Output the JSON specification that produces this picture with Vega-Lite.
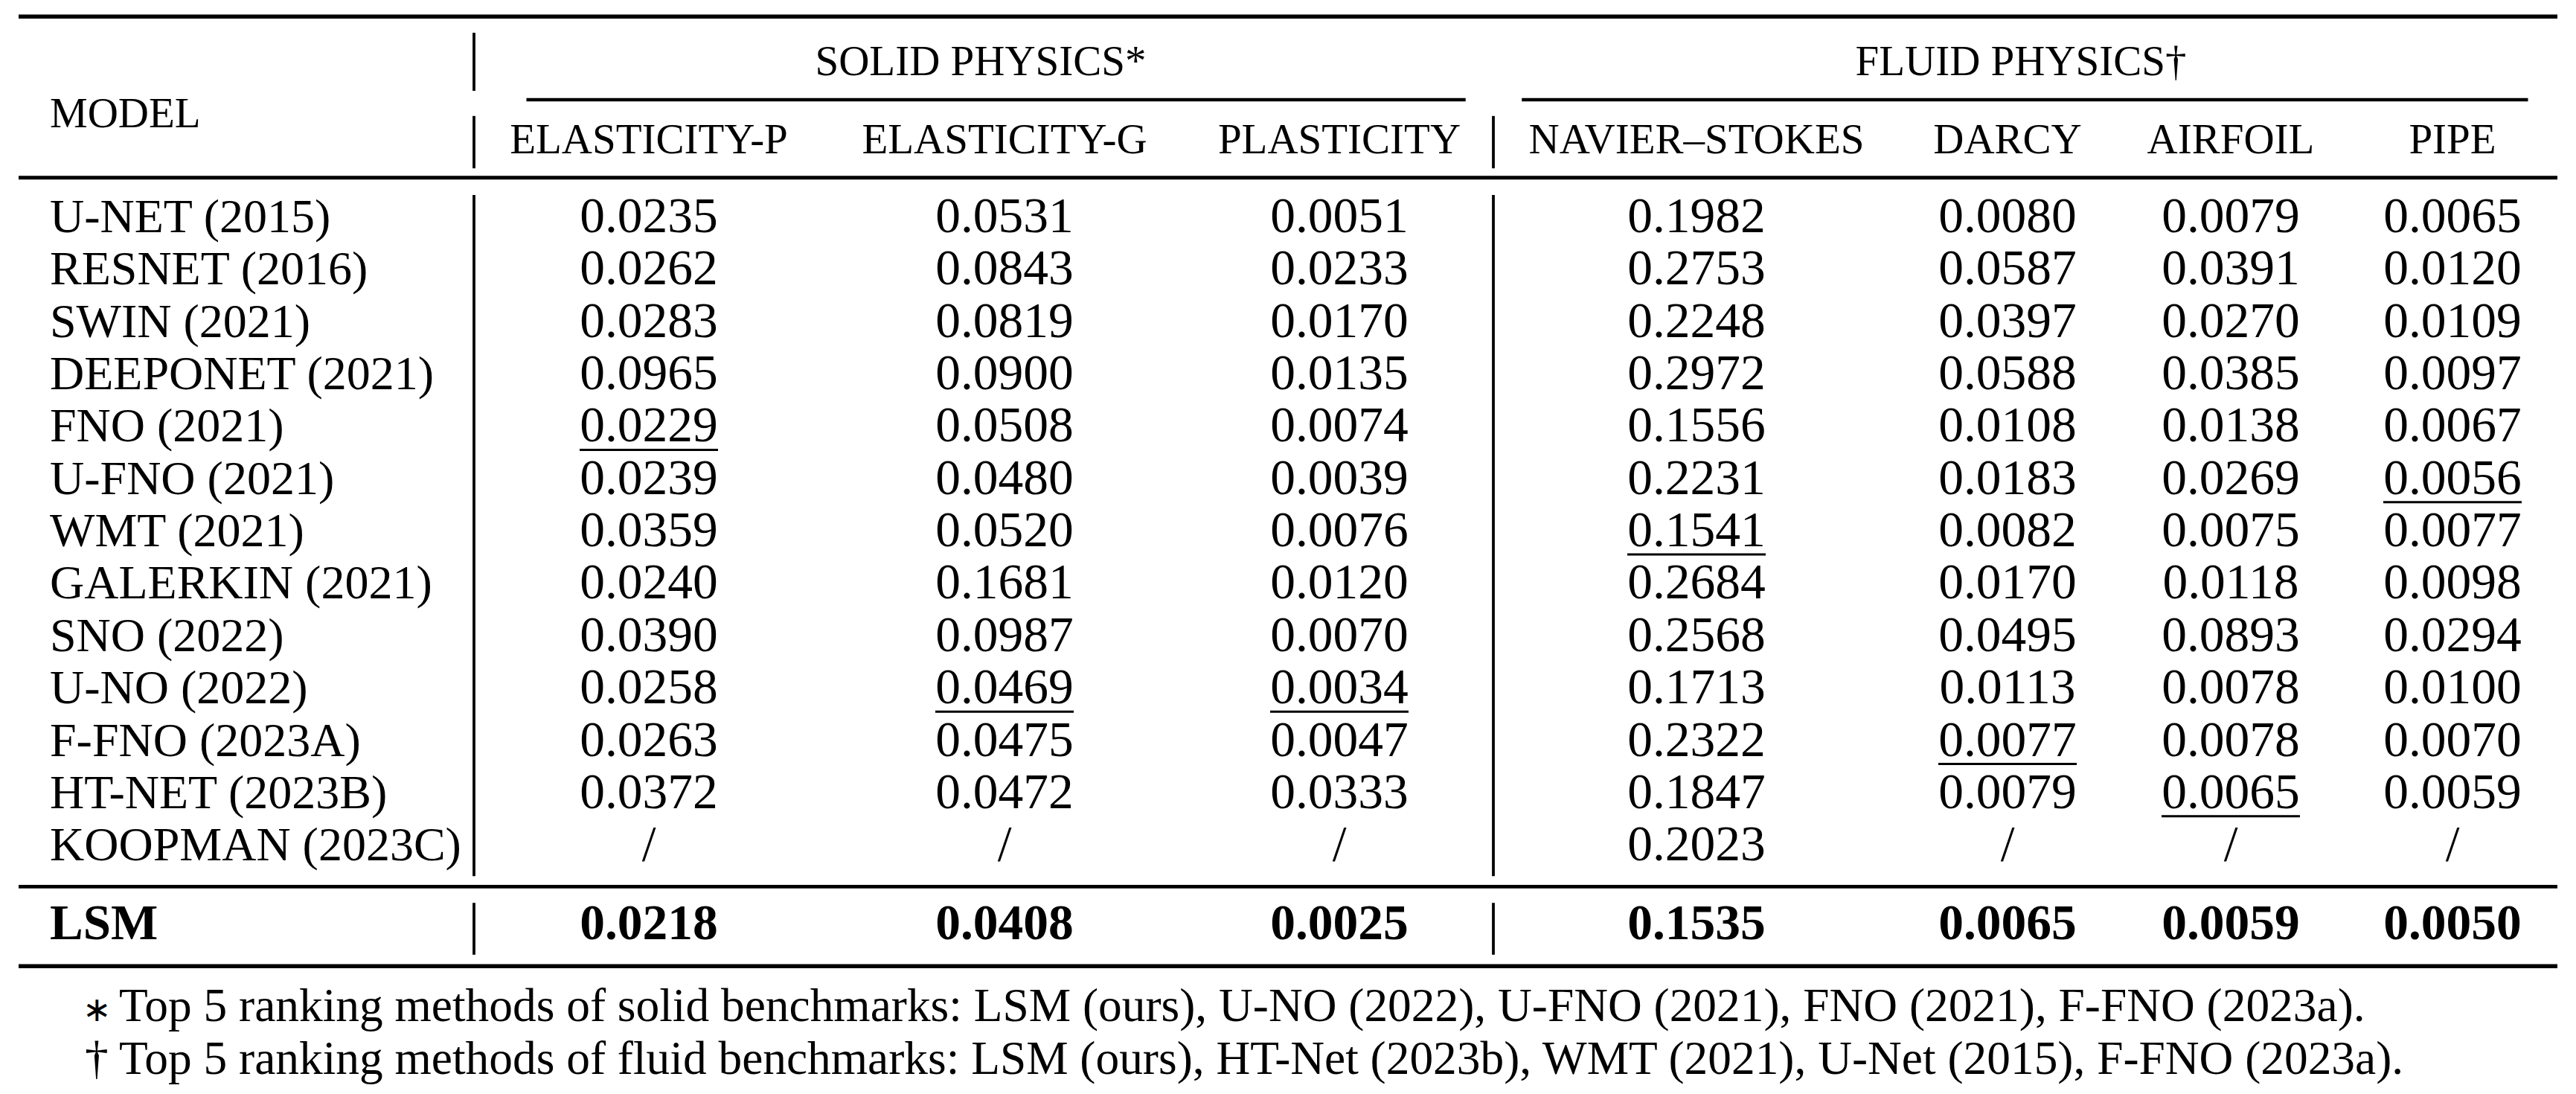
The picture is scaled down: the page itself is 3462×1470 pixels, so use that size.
{
  "$schema": "https://vega.github.io/schema/vega-lite/v6.json",
  "width": 3462,
  "height": 1470,
  "padding": 0,
  "autosize": {"type": "none"},
  "background": "white",
  "config": {"view": {"stroke": null}, "font": "Liberation Serif", "text": {"font": "Liberation Serif", "baseline": "alphabetic"}},
  "datasets": {
    "rules": [
      {"kind": "toprule", "c": -0.05, "c2": 7.5, "r": -3.12, "r2": -3.12},
      {"kind": "cmidrule", "c": 0.65, "c2": 3.41, "r": -1.53, "r2": -1.53},
      {"kind": "cmidrule", "c": 3.57, "c2": 7.36, "r": -1.53, "r2": -1.53},
      {"kind": "midrule", "c": -0.05, "c2": 7.5, "r": -0.04, "r2": -0.04},
      {"kind": "midrule", "c": -0.05, "c2": 7.5, "r": 13.5, "r2": 13.5},
      {"kind": "toprule", "c": -0.05, "c2": 7.5, "r": 15.02, "r2": 15.02},
      {"kind": "vline", "c": 0.5, "c2": 0.5, "r": -2.81, "r2": -1.7},
      {"kind": "vline", "c": 0.5, "c2": 0.5, "r": -1.22, "r2": -0.22},
      {"kind": "vline", "c": 3.5, "c2": 3.5, "r": -1.22, "r2": -0.22},
      {"kind": "vline", "c": 0.5, "c2": 0.5, "r": 0.29, "r2": 13.3},
      {"kind": "vline", "c": 3.5, "c2": 3.5, "r": 0.29, "r2": 13.3},
      {"kind": "vline", "c": 0.5, "c2": 0.5, "r": 13.81, "r2": 14.8},
      {"kind": "vline", "c": 3.5, "c2": 3.5, "r": 13.81, "r2": 14.8}
    ],
    "heads": [
      {"c": 1.933, "r": -2, "label": "SOLID PHYSICS*"},
      {"c": 5.06, "r": -2, "label": "FLUID PHYSICS†"},
      {"c": 1, "r": -0.5, "label": "ELASTICITY-P"},
      {"c": 2, "r": -0.5, "label": "ELASTICITY-G"},
      {"c": 3, "r": -0.5, "label": "PLASTICITY"},
      {"c": 4, "r": -0.5, "label": "NAVIER–STOKES"},
      {"c": 5, "r": -0.5, "label": "DARCY"},
      {"c": 6, "r": -0.5, "label": "AIRFOIL"},
      {"c": 7, "r": -0.5, "label": "PIPE"}
    ],
    "results": [
      {"model": "U-NET", "year": "2015", "EP": 0.0235, "EG": 0.0531, "PL": 0.0051, "NS": 0.1982, "DA": 0.0080, "AI": 0.0079, "PI": 0.0065},
      {"model": "RESNET", "year": "2016", "EP": 0.0262, "EG": 0.0843, "PL": 0.0233, "NS": 0.2753, "DA": 0.0587, "AI": 0.0391, "PI": 0.0120},
      {"model": "SWIN", "year": "2021", "EP": 0.0283, "EG": 0.0819, "PL": 0.0170, "NS": 0.2248, "DA": 0.0397, "AI": 0.0270, "PI": 0.0109},
      {"model": "DEEPONET", "year": "2021", "EP": 0.0965, "EG": 0.0900, "PL": 0.0135, "NS": 0.2972, "DA": 0.0588, "AI": 0.0385, "PI": 0.0097},
      {"model": "FNO", "year": "2021", "EP": 0.0229, "EG": 0.0508, "PL": 0.0074, "NS": 0.1556, "DA": 0.0108, "AI": 0.0138, "PI": 0.0067},
      {"model": "U-FNO", "year": "2021", "EP": 0.0239, "EG": 0.0480, "PL": 0.0039, "NS": 0.2231, "DA": 0.0183, "AI": 0.0269, "PI": 0.0056},
      {"model": "WMT", "year": "2021", "EP": 0.0359, "EG": 0.0520, "PL": 0.0076, "NS": 0.1541, "DA": 0.0082, "AI": 0.0075, "PI": 0.0077},
      {"model": "GALERKIN", "year": "2021", "EP": 0.0240, "EG": 0.1681, "PL": 0.0120, "NS": 0.2684, "DA": 0.0170, "AI": 0.0118, "PI": 0.0098},
      {"model": "SNO", "year": "2022", "EP": 0.0390, "EG": 0.0987, "PL": 0.0070, "NS": 0.2568, "DA": 0.0495, "AI": 0.0893, "PI": 0.0294},
      {"model": "U-NO", "year": "2022", "EP": 0.0258, "EG": 0.0469, "PL": 0.0034, "NS": 0.1713, "DA": 0.0113, "AI": 0.0078, "PI": 0.0100},
      {"model": "F-FNO", "year": "2023A", "EP": 0.0263, "EG": 0.0475, "PL": 0.0047, "NS": 0.2322, "DA": 0.0077, "AI": 0.0078, "PI": 0.0070},
      {"model": "HT-NET", "year": "2023B", "EP": 0.0372, "EG": 0.0472, "PL": 0.0333, "NS": 0.1847, "DA": 0.0079, "AI": 0.0065, "PI": 0.0059},
      {"model": "KOOPMAN", "year": "2023C", "EP": null, "EG": null, "PL": null, "NS": 0.2023, "DA": null, "AI": null, "PI": null},
      {"model": "LSM", "year": null, "EP": 0.0218, "EG": 0.0408, "PL": 0.0025, "NS": 0.1535, "DA": 0.0065, "AI": 0.0059, "PI": 0.0050}
    ],
    "notes": [
      {"line": 1, "mk": "∗", "txt": "Top 5 ranking methods of solid benchmarks: LSM (ours), U-NO (2022), U-FNO (2021), FNO (2021), F-FNO (2023a)."},
      {"line": 2, "mk": "†", "txt": "Top 5 ranking methods of fluid benchmarks: LSM (ours), HT-Net (2023b), WMT (2021), U-Net (2015), F-FNO (2023a)."}
    ]
  },
  "encoding": {
    "x": {"field": "c", "type": "quantitative", "axis": null,
      "scale": {"domain": [-0.05, 0, 0.5, 1, 2, 3, 3.5, 4, 5, 6, 7, 7.5], "range": [25, 67, 637, 872, 1350, 1800, 2007, 2280, 2698, 2998, 3296, 3437], "zero": false, "nice": false}},
    "y": {"field": "r", "type": "quantitative", "axis": null,
      "scale": {"domain": [1, 17], "range": [312, 1437.6], "zero": false, "nice": false}}
  },
  "layer": [
    {
      "data": {"name": "rules"},
      "mark": {"type": "rule", "color": "black"},
      "encoding": {
        "x2": {"field": "c2"},
        "y2": {"field": "r2"},
        "strokeWidth": {"field": "kind", "type": "ordinal", "legend": null,
          "scale": {"domain": ["toprule", "midrule", "cmidrule", "vline"], "range": [5.5, 3.8, 2.6, 2.6]}}
      }
    },
    {
      "data": {"name": "heads"},
      "mark": {"type": "text", "align": "center", "baseline": "alphabetic", "font": "Liberation Serif", "fontSize": 57, "color": "black"},
      "encoding": {"text": {"field": "label", "type": "nominal"}}
    },
    {
      "data": {"values": [{"c": 0, "r": -1, "label": "MODEL"}]},
      "mark": {"type": "text", "align": "left", "baseline": "alphabetic", "font": "Liberation Serif", "fontSize": 57, "color": "black"},
      "encoding": {"text": {"field": "label", "type": "nominal"}}
    },
    {
      "data": {"name": "results"},
      "transform": [
        {"window": [{"op": "row_number", "as": "rn"}]},
        {"calculate": "datum.model === 'LSM' ? 14.5 : datum.rn", "as": "r"},
        {"calculate": "0", "as": "c"},
        {"calculate": "datum.year === null ? datum.model : datum.model + ' (' + datum.year + ')'", "as": "label"}
      ],
      "layer": [
        {
          "transform": [{"filter": "datum.model !== 'LSM'"}],
          "mark": {"type": "text", "align": "left", "baseline": "alphabetic", "font": "Liberation Serif", "fontSize": 64, "color": "black"},
          "encoding": {"text": {"field": "label", "type": "nominal"}}
        },
        {
          "transform": [{"filter": "datum.model === 'LSM'"}],
          "mark": {"type": "text", "align": "left", "baseline": "alphabetic", "font": "Liberation Serif", "fontSize": 67, "fontWeight": "bold", "color": "black"},
          "encoding": {"text": {"field": "label", "type": "nominal"}}
        }
      ]
    },
    {
      "data": {"name": "results"},
      "transform": [
        {"window": [{"op": "row_number", "as": "rn"}]},
        {"calculate": "datum.model === 'LSM' ? 14.5 : datum.rn", "as": "r"},
        {"fold": ["EP", "EG", "PL", "NS", "DA", "AI", "PI"]},
        {"calculate": "indexof(['EP','EG','PL','NS','DA','AI','PI'], datum.key) + 1", "as": "c"},
        {"calculate": "datum.value === null ? '/' : format(datum.value, '.4f')", "as": "t"}
      ],
      "layer": [
        {
          "transform": [{"filter": "datum.model !== 'LSM'"}],
          "mark": {"type": "text", "align": "center", "baseline": "alphabetic", "font": "Liberation Serif", "fontSize": 67.5, "color": "black"},
          "encoding": {"text": {"field": "t", "type": "nominal"}}
        },
        {
          "transform": [{"filter": "datum.model === 'LSM'"}],
          "mark": {"type": "text", "align": "center", "baseline": "alphabetic", "font": "Liberation Serif", "fontSize": 67.5, "fontWeight": "bold", "color": "black"},
          "encoding": {"text": {"field": "t", "type": "nominal"}}
        },
        {
          "transform": [
            {"filter": "datum.value !== null"},
            {"window": [{"op": "rank", "as": "rk"}], "sort": [{"field": "value", "order": "ascending"}], "groupby": ["key"]},
            {"filter": "datum.rk === 2"}
          ],
          "mark": {"type": "tick", "orient": "horizontal", "size": 186, "thickness": 3, "yOffset": 11, "color": "black", "opacity": 1}
        }
      ]
    },
    {
      "data": {"name": "notes"},
      "transform": [
        {"calculate": "15.07 + datum.line", "as": "r"},
        {"calculate": "0", "as": "c"}
      ],
      "layer": [
        {
          "transform": [{"filter": "datum.line === 1"}],
          "mark": {"type": "text", "align": "left", "baseline": "alphabetic", "font": "Liberation Serif", "fontSize": 46, "dx": 44, "color": "black"},
          "encoding": {"text": {"field": "mk", "type": "nominal"}}
        },
        {
          "transform": [{"filter": "datum.line === 2"}],
          "mark": {"type": "text", "align": "left", "baseline": "alphabetic", "font": "Liberation Serif", "fontSize": 63.4, "dx": 47, "color": "black"},
          "encoding": {"text": {"field": "mk", "type": "nominal"}}
        },
        {
          "mark": {"type": "text", "align": "left", "baseline": "alphabetic", "font": "Liberation Serif", "fontSize": 63.4, "dx": 93, "color": "black"},
          "encoding": {"text": {"field": "txt", "type": "nominal"}}
        }
      ]
    }
  ]
}
